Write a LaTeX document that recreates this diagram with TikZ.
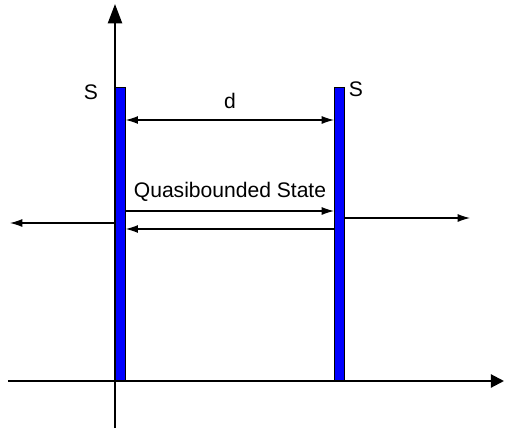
\documentclass[tikz,border=0pt]{standalone}
\usepackage{fontspec}
\setmainfont{Liberation Sans}
\usetikzlibrary{arrows.meta}

\begin{document}
\begin{tikzpicture}[
  x=0.02cm, y=-0.02cm,
  font=\fontsize{12}{14}\selectfont,
  barrier/.style={draw, fill=blue, line width=0.4pt, inner sep=0pt,
                  minimum width=0.2cm, minimum height=5.86cm},
  axis/.style={line width=1.2pt},
  wave/.style={line width=0.6pt, -{Latex[length=7pt,width=4.5pt]}},
  span/.style={line width=0.6pt, {Latex[length=7pt,width=4.5pt]}-{Latex[length=7pt,width=4.5pt]}},
  label/.style={inner sep=0pt}
]
\useasboundingbox (0,0) rectangle (505,430);

% barriers
\node[barrier, anchor=south west] (lbar) at (115,381) {};
\node[barrier, anchor=south west] (rbar) at (334,381) {};

% axes
\coordinate (ytop) at (115,4);
\coordinate (ybot) at (115,428);
\coordinate (xleft) at (8,381);
\coordinate (xright) at (504,381);
\draw[axis, -{Triangle[length=11pt,width=8pt]}] (ybot) -- (ytop);
\draw[axis, -{Triangle[length=7.5pt,width=7.5pt]}] (xleft) -- (xright);

\node[label] (sl) at (91,92) {S};
\node[label] (sr) at (356,89) {S};
\node[label] (dlab) at (230,101) {d};
\node[label] (qlab) at (230,192) {Quasibounded State};

% distance and waves
\draw[span] (lbar.east |- 0,120) -- (rbar.west |- 0,120);
\draw[wave] (lbar.east |- 0,211) -- (rbar.west |- 0,211);
\draw[wave] (rbar.west |- 0,229) -- (lbar.east |- 0,229);
\coordinate (outl) at (10,223);
\coordinate (outr) at (470,218);
\draw[wave] (lbar.west |- outl) -- (outl);
\draw[wave] (rbar.east |- outr) -- (outr);
\end{tikzpicture}
\end{document}
